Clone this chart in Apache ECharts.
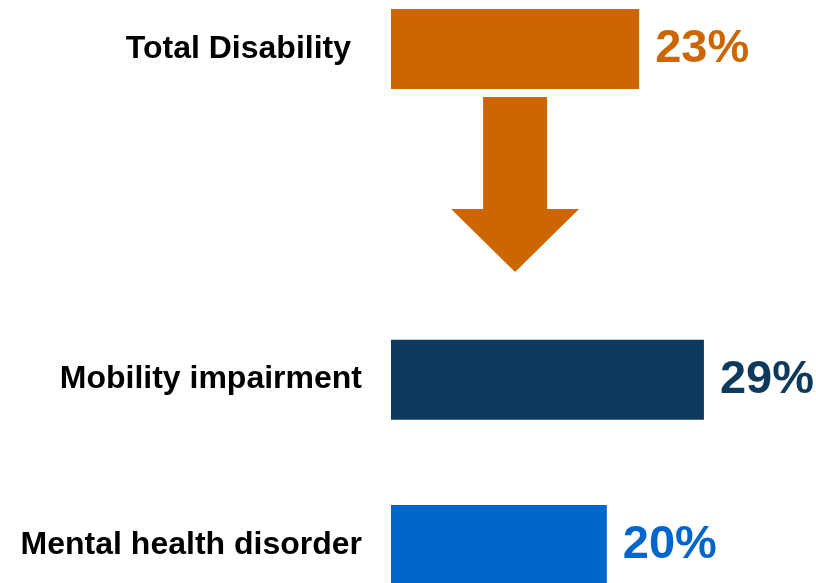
<!DOCTYPE html>
<html>
<head>
<meta charset="utf-8">
<script src="https://cdn.jsdelivr.net/npm/echarts@6/dist/echarts.min.js"></script>
<style>
  html, body { margin: 0; padding: 0; background: #ffffff; }
  #chart { width: 816px; height: 583px; }
</style>
</head>
<body>
<div id="chart"></div>
<script>
// Row labels; the empty slot holds the arrow between the total and the breakdown
const categories = ['Total Disability', '', 'Mobility impairment', 'Mental health disorder'];
// Percentages per row ('-' = no bar)
const values = [23, '-', 29, 20];
// Colour of each row's bar and its value label
const rowColors = ['#CC6600', null, '#0D3A5C', '#0066CC'];

const FONT = '"Liberation Sans", Arial, sans-serif';

const chart = echarts.init(document.getElementById('chart'), null, { renderer: 'canvas' });

const barData = values.map((v, i) => ({
  value: v,
  itemStyle: { color: rowColors[i] || '#000' },
  label: { color: rowColors[i] || '#000' }
}));

// Arrow anchored to the middle of the total bar, pointing to the breakdown rows
function renderArrow(params, api) {
  const total = api.value(0);
  const row = api.value(1);
  const c = api.coord([total / 2, row]);
  const cx = c[0];
  const y0 = c[1];
  const shaftHalf = 32;
  const headHalf = 64;
  const top = y0 + 48;
  const headBase = y0 + 160;
  const tip = y0 + 223;
  return {
    type: 'polygon',
    shape: {
      points: [
        [cx - shaftHalf, top],
        [cx + shaftHalf, top],
        [cx + shaftHalf, headBase],
        [cx + headHalf, headBase],
        [cx, tip],
        [cx - headHalf, headBase],
        [cx - shaftHalf, headBase]
      ]
    },
    style: { fill: rowColors[0] }
  };
}

chart.setOption({
  backgroundColor: '#ffffff',
  animation: false,
  grid: { left: 391, width: 323.7, top: 49, bottom: 38, containLabel: false },
  xAxis: {
    type: 'value',
    min: 0,
    max: 30,
    show: false
  },
  yAxis: {
    type: 'category',
    data: categories,
    inverse: true,
    boundaryGap: false,
    axisLine: { show: false },
    axisTick: { show: false },
    splitLine: { show: false },
    axisLabel: {
      margin: 29,
      fontFamily: FONT,
      fontSize: 32,
      fontWeight: 'bold',
      color: '#000000',
      formatter: function (v) {
        return v === categories[0] ? '{t|' + v + '}' : v;
      },
      rich: {
        t: { fontFamily: FONT, fontSize: 32, fontWeight: 'bold', color: '#000000', padding: [0, 11, 0, 0] }
      }
    }
  },
  series: [
    {
      type: 'bar',
      data: barData,
      barWidth: 80,
      clip: false,
      label: {
        show: true,
        position: 'right',
        distance: 16,
        fontFamily: FONT,
        fontSize: 47,
        fontWeight: 'bold',
        padding: [4, 0, 0, 0],
        formatter: '{c}%'
      }
    },
    {
      type: 'custom',
      renderItem: renderArrow,
      clip: false,
      data: [[values[0], 0]],
      silent: true
    }
  ]
});
</script>
</body>
</html>
